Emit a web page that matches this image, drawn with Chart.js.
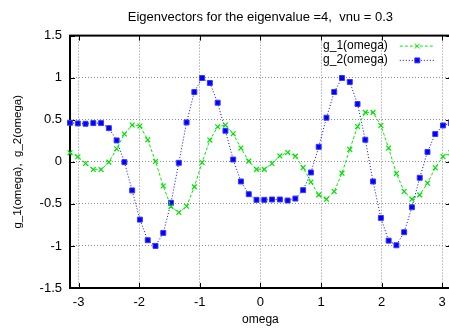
<!DOCTYPE html>
<html>
<head>
<meta charset="utf-8">
<script src="https://cdn.jsdelivr.net/npm/chart.js@4.4.1/dist/chart.umd.min.js"></script>
<style>
  html, body { margin: 0; padding: 0; background: #fff; overflow: hidden; }
  #eigen-chart { display: block; }
</style>
</head>
<body>
<canvas id="eigen-chart" width="456" height="329"></canvas>
<script>
// omega sample points (50 points from -pi to pi)
const omega = [
  -3.142, -3.013, -2.885, -2.757, -2.629, -2.500, -2.372, -2.244, -2.116, -1.988,
  -1.859, -1.731, -1.603, -1.475, -1.346, -1.218, -1.090, -0.962, -0.834, -0.705,
  -0.577, -0.449, -0.321, -0.192, -0.064, 0.064, 0.192, 0.321, 0.449, 0.577,
  0.705, 0.834, 0.962, 1.090, 1.218, 1.346, 1.475, 1.603, 1.731, 1.859,
  1.988, 2.116, 2.244, 2.372, 2.500, 2.629, 2.757, 2.885, 3.013, 3.142
];

// g_1(omega), green
const g1 = [
  0.107, 0.060, -0.020, -0.092, -0.092, -0.004, 0.155, 0.330, 0.437, 0.425,
  0.262, 0.004, -0.288, -0.532, -0.603, -0.528, -0.298, -0.008, 0.258, 0.417,
  0.437, 0.333, 0.163, 0.008, -0.090, -0.090, -0.020, 0.070, 0.111, 0.067,
  -0.070, -0.240, -0.393, -0.444, -0.353, -0.135, 0.147, 0.420, 0.587, 0.587,
  0.432, 0.163, -0.140, -0.353, -0.444, -0.393, -0.254, -0.071, 0.063, 0.107
];

// g_2(omega), blue
const g2 = [
  0.464, 0.456, 0.452, 0.460, 0.460, 0.400, 0.254, -0.004, -0.340, -0.687,
  -0.932, -1.000, -0.845, -0.488, -0.012, 0.468, 0.830, 0.996, 0.937, 0.702,
  0.369, 0.027, -0.234, -0.385, -0.452, -0.452, -0.448, -0.448, -0.460, -0.437,
  -0.337, -0.127, 0.178, 0.524, 0.830, 0.996, 0.949, 0.687, 0.262, -0.234,
  -0.667, -0.937, -0.992, -0.837, -0.540, -0.190, 0.117, 0.330, 0.432, 0.460
];

const seriesNames = ["g_1(omega)", "g_2(omega)"];
const xTicks = [-3, -2, -1, 0, 1, 2, 3];
const yTicks = [-1.5, -1, -0.5, 0, 0.5, 1, 1.5];

Chart.defaults.font.family = "'Liberation Sans', Arial, sans-serif";
Chart.defaults.color = "#000";

function toPoints(ys) {
  return ys.map(function (y, i) { return { x: omega[i], y: y }; });
}

// gnuplot style frame: border box with inward ticks on all four sides
const framePlugin = {
  id: "frame",
  beforeDatasetsDraw: function (chart) {
    const ctx = chart.ctx;
    const a = chart.chartArea;
    const xs = chart.scales.x;
    const ys = chart.scales.y;
    const len = 5;
    ctx.save();
    ctx.strokeStyle = "#000";
    ctx.lineWidth = 1;
    ctx.beginPath();
    xs.ticks.forEach(function (t) {
      const px = Math.round(xs.getPixelForValue(t.value)) + 0.5;
      ctx.moveTo(px, a.bottom); ctx.lineTo(px, a.bottom - len);
      ctx.moveTo(px, a.top); ctx.lineTo(px, a.top + len);
    });
    ys.ticks.forEach(function (t) {
      const py = Math.round(ys.getPixelForValue(t.value)) + 0.5;
      ctx.moveTo(a.left, py); ctx.lineTo(a.left + len, py);
      ctx.moveTo(a.right, py); ctx.lineTo(a.right - len, py);
    });
    ctx.stroke();
    ctx.lineWidth = 2;
    ctx.strokeRect(a.left, a.top, a.right - a.left, a.bottom - a.top);
    ctx.restore();
  }
};

// legend in the top right: text right-aligned, then a line sample with its point
const keyPlugin = {
  id: "key",
  afterDraw: function (chart) {
    const ctx = chart.ctx;
    const a = chart.chartArea;
    ctx.save();
    ctx.font = "12px 'Liberation Sans', Arial, sans-serif";
    ctx.textAlign = "right";
    ctx.textBaseline = "middle";
    chart.data.datasets.forEach(function (ds, i) {
      const y = a.top + 10 + i * 14.3;
      const x1 = a.right - 51;
      const x2 = a.right - 16;
      ctx.fillStyle = "#000";
      ctx.fillText(ds.label, a.right - 63, y);
      ctx.strokeStyle = ds.borderColor;
      ctx.lineWidth = 1;
      ctx.setLineDash(ds.borderDash);
      ctx.beginPath();
      ctx.moveTo(x1, y + 0.5);
      ctx.lineTo(x2, y + 0.5);
      ctx.stroke();
      ctx.setLineDash([]);
      ctx.fillStyle = ds.pointBackgroundColor;
      ctx.strokeStyle = ds.pointBorderColor;
      Chart.helpers.drawPoint(ctx, {
        pointStyle: ds.pointStyle, radius: ds.pointRadius, rotation: 0, borderWidth: 1
      }, (x1 + x2) / 2, y + 0.5);
    });
    ctx.restore();
  }
};

const data = {
  datasets: [{
    label: seriesNames[0],
    data: toPoints(g1),
    showLine: true,
    borderColor: "#00f000",
    borderWidth: 1,
    borderDash: [3, 2],
    pointStyle: "crossRot",
    pointRadius: 3.4,
    pointBorderColor: "#00e000",
    pointBackgroundColor: "#00e000",
    pointBorderWidth: 1.2,
    clip: false
  }, {
    label: seriesNames[1],
    data: toPoints(g2),
    showLine: true,
    borderColor: "#0000ff",
    borderWidth: 1,
    borderDash: [1, 2],
    pointStyle: "rect",
    pointRadius: 3.5,
    pointBorderColor: "#3a3aff",
    pointBackgroundColor: "#0000ff",
    pointBorderWidth: 1,
    clip: false
  }]
};

const config = {
  type: "scatter",
  data: data,
  plugins: [framePlugin, keyPlugin],
  options: {
    responsive: false,
    animation: false,
    devicePixelRatio: 1,
    layout: { padding: { left: 0, right: 3.4, top: 0, bottom: 0 } },
    scales: {
      x: {
        type: "linear",
        min: -Math.PI,
        max: Math.PI,
        afterBuildTicks: function (axis) {
          axis.ticks = xTicks.map(function (v) { return { value: v }; });
        },
        afterFit: function (axis) { axis.height = 41; },
        grid: {
          color: "#8c8c8c",
          lineWidth: 1,
          drawTicks: false
        },
        border: { display: false, dash: [1, 2] },
        ticks: {
          padding: 7,
          font: { size: 13 },
          callback: function (v) { return String(v); }
        },
        title: {
          display: true,
          text: "omega",
          font: { size: 12 },
          padding: { top: 0, bottom: 2 }
        }
      },
      y: {
        type: "linear",
        min: -1.5,
        max: 1.5,
        afterBuildTicks: function (axis) {
          axis.ticks = yTicks.map(function (v) { return { value: v }; });
        },
        afterFit: function (axis) { axis.width = 70; },
        grid: {
          color: "#8c8c8c",
          lineWidth: 1,
          drawTicks: false
        },
        border: { display: false, dash: [1, 2] },
        ticks: {
          padding: 8,
          font: { size: 13 },
          callback: function (v) { return String(v); }
        },
        title: {
          display: true,
          text: "g_1(omega),  g_2(omega)",
          font: { size: 11.5 },
          padding: { top: 11, bottom: 0 }
        }
      }
    },
    plugins: {
      legend: { display: false },
      tooltip: { enabled: false },
      title: {
        display: true,
        fullSize: false,
        text: "Eigenvectors for the eigenvalue =4,  vnu = 0.3",
        font: { size: 13, weight: "normal" },
        color: "#000",
        padding: { top: 10, bottom: 10 }
      }
    }
  }
};

new Chart(document.getElementById("eigen-chart"), config);
</script>
</body>
</html>
